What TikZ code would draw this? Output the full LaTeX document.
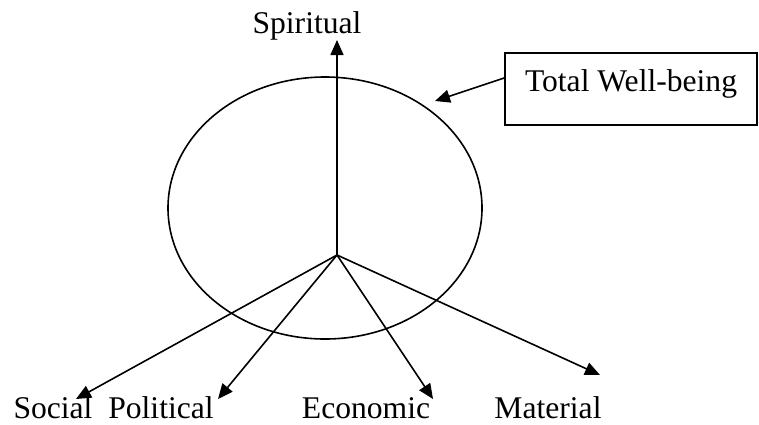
\documentclass[tikz,border=0pt]{standalone}
\usepackage{fontspec}
\setmainfont{Liberation Serif}
\usetikzlibrary{arrows.meta, positioning}

\begin{document}
\begin{tikzpicture}[
  x=0.5pt, y=-0.5pt,
  line width=0.8pt,
  lbl/.style={font=\fontsize{15.8}{19}\selectfont, inner sep=0pt, anchor=base},
  box/.style={draw, font=\fontsize{15.8}{19}\selectfont,
              minimum width=126pt, minimum height=36pt,
              text height=0.68em, text depth=0.41em},
  arr/.style={-{Triangle[length=7.5pt, width=6.5pt]}},
]
\useasboundingbox (0,0) rectangle (759,424);

% CIRCLE AND CENTRE
\draw (325,208) ellipse [x radius=157, y radius=131];
\coordinate (o) at (337,255);

% SPIRITUAL
\coordinate (sp) at (337,40);
\node[lbl] (spiritual) at (307,33) {Spiritual};
\draw[arr] (o) -- (sp);

% TOTAL WELL-BEING
\node[box] (total) at (631,89) {Total Well-being};
\coordinate (tw) at (435,101);
\draw[arr] ([yshift=5.5pt]total.west) -- (tw);

% LOWER ARROWS
\coordinate (so) at (76,399);
\coordinate (po) at (218,399);
\coordinate (ec) at (433,399);
\coordinate (ma) at (600,375);
\draw[arr] (o) -- (so);
\draw[arr] (o) -- (po);
\draw[arr] (o) -- (ec);
\draw[arr] (o) -- (ma);

\node[lbl] (social)    at (53,418)  {Social};
\node[lbl] (political) at (161,418) {Political};
\node[lbl] (economic)  at (366,418) {Economic};
\node[lbl] (material)  at (548,418) {Material};

\end{tikzpicture}
\end{document}
